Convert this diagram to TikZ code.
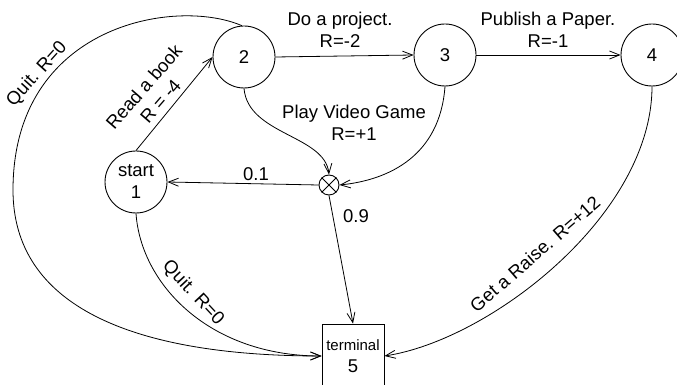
\documentclass[tikz,border=0pt]{standalone}
\usepackage{fontspec}
\setmainfont{Liberation Sans}
\usetikzlibrary{arrows.meta}
\begin{document}
\begin{tikzpicture}[x=1pt,y=1pt,
  state/.style={circle,draw,line width=0.9pt,minimum size=62pt,inner sep=0pt,align=center,font=\fontsize{18.5}{22}\selectfont},
  termbox/.style={draw,line width=0.9pt,minimum width=62pt,minimum height=64pt,inner sep=0pt,align=center,font=\fontsize{15}{22}\selectfont},
  lbl/.style={font=\fontsize{18.5}{22}\selectfont,align=center,inner sep=0pt},
  conn/.style={line width=0.8pt,-{Straight Barb[length=10pt,width=8pt]}},
]
\useasboundingbox (0,0) rectangle (677,385);
\node[state] (n1) at (136,203) {start\\1};
\node[state] (n2) at (244,328) {2};
\node[state] (n3) at (445,330) {3};
\node[state] (n4) at (652,330) {4};
\node[circle,draw,line width=0.9pt,minimum size=20pt,inner sep=0pt] (x) at (329,200) {};
\draw[line width=0.9pt] (x.north east) -- (x.south west) (x.north west) -- (x.south east);
\node[termbox] (n5) at (353,29) {terminal\\{\fontsize{18.5}{22}\selectfont 5}};
\coordinate (lw) at (13,195);

\draw[conn] (n1.north) -- (n2.west);
\draw[conn] (n2.east) -- (n3.west);
\draw[conn] (n3.east) -- (n4.west);
\draw[conn] (n2.south) .. controls (248,250) and (325,250) .. (x.north);
\draw[conn] (n3.south) .. controls (440,230) and (390,205) .. (x.east);
\draw[conn] (x.west) -- (n1.east);
\draw[conn] (x.south) -- (n5.north);
\draw[conn] (n1.south) .. controls (141,100) and (210,29) .. (n5.west);
\draw[conn] (n2.94) .. controls (175,388) and (13,360) .. (lw) .. controls (13,80) and (130,29) .. (n5.west);
\draw[conn] (n4.south) .. controls (652,170) and (490,45) .. (n5.east);

\node[lbl,rotate=49] (l12) at (152,291) {Read a book\\R = -4};
\node[lbl] (l23) at (340,355) {Do a project.\\R=-2};
\node[lbl] (l34) at (548,355) {Publish a Paper.\\R=-1};
\node[lbl] (lvg) at (354,262) {Play Video Game\\R=+1};
\node[lbl] (l01) at (256,211) {0.1};
\node[lbl] (l09) at (356,169) {0.9};
\node[lbl,rotate=-47] (lq1) at (193,92) {Quit. R=0};
\node[lbl,rotate=48] (lq2) at (37,311) {Quit. R=0};
\node[lbl,rotate=41] (lgr) at (535,131) {Get a Raise. R=+12};
\end{tikzpicture}
\end{document}
